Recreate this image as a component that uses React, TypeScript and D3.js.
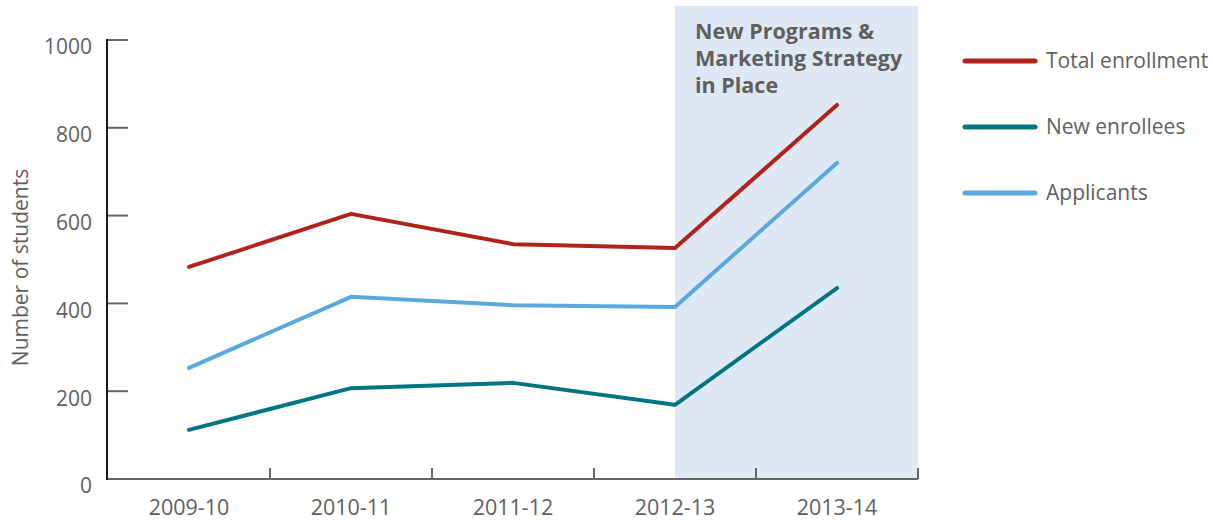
import React from 'react';
import * as d3 from 'd3';

const years = ['2009-10', '2010-11', '2011-12', '2012-13', '2013-14'];
const totalEnrollment = [483, 604, 535, 526, 852];
const newEnrollees = [112, 207, 219, 169, 435];
const applicants = [253, 415, 396, 392, 720];
const yTicks = [0, 200, 400, 600, 800, 1000];
const noteLines = ['New Programs &', 'Marketing Strategy', 'in Place'];
const noteStart = '2012-13';

const series = [
  { name: 'Total enrollment', values: totalEnrollment, color: '#b0231a' },
  { name: 'New enrollees', values: newEnrollees, color: '#027580' },
  { name: 'Applicants', values: applicants, color: '#5aa8dc' },
];

const App = () => {
  const Width = 1213;
  const Height = 520;
  const margin = { top: 40, right: 295, bottom: 41, left: 108 };
  const chartWidth = Width - margin.left - margin.right;
  const chartHeight = Height - margin.top - margin.bottom;
  const font = '"Open Sans", "Noto Sans", sans-serif';
  const textColor = '#5f5f5f';

  const xScale = d3.scaleBand().domain(years).range([0, chartWidth]).padding(0);
  const yScale = d3.scaleLinear().domain([0, 1000]).range([chartHeight, 0]);
  const cx = (d: string) => (xScale(d) ?? 0) + xScale.bandwidth() / 2;

  const line = d3
    .line<number>()
    .x((_, i) => cx(years[i]))
    .y((d) => yScale(d));

  const shadeX = cx(noteStart);

  return (
    <svg width={Width} height={Height} style={{ position: 'absolute', left: 0, top: 0 }} fontFamily={font}>
      <g transform={`translate(${margin.left}, ${margin.top})`}>
        {/* highlighted period */}
        <rect x={shadeX} y={-34} width={chartWidth - shadeX} height={chartHeight + 34} fill="#dfe9f6" />
        {noteLines.map((t, i) => (
          <text key={i} x={shadeX + 20} y={-1 + i * 27} fontSize={21.5} fontWeight="bold" fill={textColor}>
            {t}
          </text>
        ))}

        {/* y axis */}
        {yTicks.map((t) => (
          <g key={t} transform={`translate(0, ${yScale(t)})`}>
            <line x1={0} x2={20} stroke="#666" strokeWidth={2} />
            <text x={-16} y={7} dy="0.35em" textAnchor="end" fontSize={21} fill={textColor}>
              {t}
            </text>
          </g>
        ))}
        <line x1={-1} x2={-1} y1={yScale(1000) - 1} y2={chartHeight + 1} stroke="#1a1a1a" strokeWidth={2} />
        <text
          transform={`translate(-80, ${chartHeight / 2 + 8}) rotate(-90)`}
          textAnchor="middle"
          fontSize={21}
          fill={textColor}
        >
          Number of students
        </text>

        {/* x axis */}
        <line x1={0} x2={chartWidth} y1={chartHeight} y2={chartHeight} stroke="#666" strokeWidth={2} />
        {years.map((d) => (
          <g key={d}>
            <line x1={(xScale(d) ?? 0) + xScale.bandwidth()} x2={(xScale(d) ?? 0) + xScale.bandwidth()} y1={chartHeight} y2={chartHeight - 11} stroke="#666" strokeWidth={2} />
            <text x={cx(d)} y={chartHeight + 36} textAnchor="middle" fontSize={21.5} fill={textColor}>
              {d}
            </text>
          </g>
        ))}

        {/* lines */}
        {series.map((s) => (
          <path key={s.name} d={line(s.values) ?? ''} fill="none" stroke={s.color} strokeWidth={4} strokeLinejoin="round" strokeLinecap="round" />
        ))}
      </g>

      {/* legend */}
      {series.map((s, i) => (
        <g key={s.name} transform={`translate(965, ${61 + i * 66})`}>
          <line x1={0} x2={70} stroke={s.color} strokeWidth={5} strokeLinecap="round" />
          <text x={81} y={0} dy="0.35em" fontSize={21} fill={textColor}>
            {s.name}
          </text>
        </g>
      ))}
    </svg>
  );
};

export default App;
